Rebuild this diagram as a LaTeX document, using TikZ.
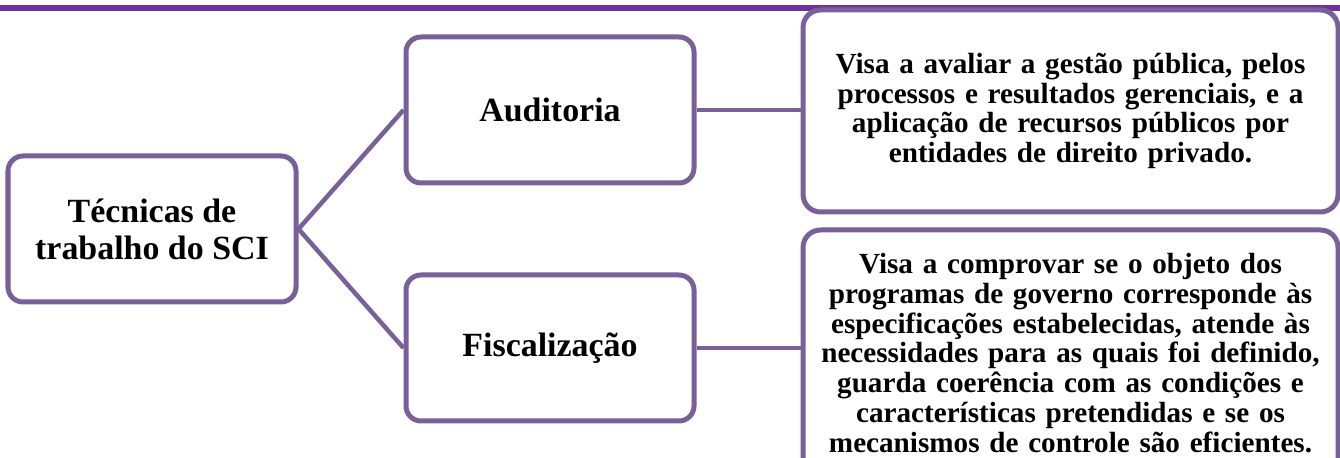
\documentclass[tikz,border=0pt]{standalone}
\usepackage{fontspec}
\setmainfont{Liberation Serif}
\usetikzlibrary{positioning}
\definecolor{boxline}{RGB}{121,96,152}
\definecolor{barline}{RGB}{112,48,160}
\tikzset{
	tecnica/.style={draw=boxline, line width=0.1cm, rounded corners=0.3cm, fill=white,
		align=center, inner sep=0.1cm, minimum width=5.76cm, minimum height=2.92cm,
		font=\bfseries\fontsize{19.3}{21}\selectfont},
	descricao/.style={draw=boxline, line width=0.1cm, rounded corners=0.35cm, fill=white,
		align=center, text width=10.5cm, inner sep=0.1cm, minimum height=4.04cm,
		font=\bfseries\fontsize{16.6}{17}\selectfont},
	ligacao/.style={draw=boxline, line width=0.09cm},
}

\begin{document}
\begin{tikzpicture}
		%%%%% START %%%%%
		\useasboundingbox (0, 0) rectangle (26.8, 9.16);
		
		\draw[barline, line width=0.12cm] (0, 9.0) -- (26.8, 9.0);
		
		\node[tecnica] (sci) at (3.04, 4.58) {Técnicas de\\trabalho do SCI};
		\node[tecnica] (auditoria) at (11.0, 6.96) {Auditoria};
		\node[tecnica] (fiscalizacao) at (11.0, 2.20) {Fiscalização};
		
		\node[descricao] (avaliar) at (21.41, 6.94) {Visa a avaliar a gestão pública, pelos\\processos e resultados gerenciais, e a\\aplicação de recursos públicos por\\entidades de direito privado.};
		\node[descricao, minimum height=4.92cm] (comprovar) at (21.41, 2.10) {Visa a comprovar se o objeto dos\\programas de governo corresponde às\\especificações estabelecidas, atende às\\necessidades para as quais foi definido,\\guarda coerência com as condições e\\características pretendidas e se os\\mecanismos de controle são eficientes.};
		
		\draw[ligacao] (sci.east) -- (auditoria.west);
		\draw[ligacao] (sci.east) -- (fiscalizacao.west);
		\draw[ligacao] (auditoria.east) -- (auditoria.east -| avaliar.west);
		\draw[ligacao] (fiscalizacao.east) -- (fiscalizacao.east -| comprovar.west);
		
		%%%%% END %%%%%
	\end{tikzpicture}
\end{document}
